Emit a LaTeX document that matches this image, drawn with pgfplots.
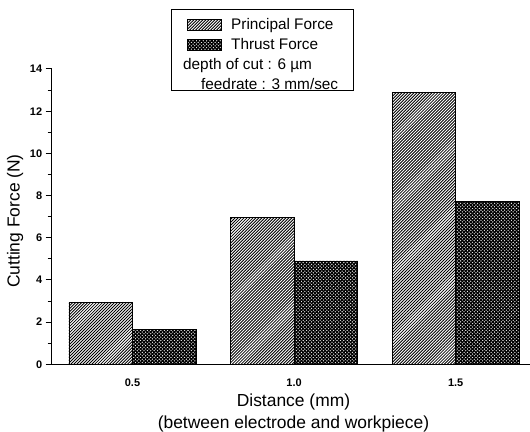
\documentclass[border=0pt]{standalone}
\usepackage{fontspec}
\setmainfont{Liberation Sans}
\usepackage{pgfplots}
\pgfplotsset{compat=1.18}
\usetikzlibrary{patterns}

\pgfdeclarepatternformonly{hatchA}{\pgfqpoint{-1pt}{-1pt}}{\pgfqpoint{4pt}{4pt}}{\pgfqpoint{3pt}{3pt}}{%
 \pgfsetlinewidth{0.85pt}\pgfpathmoveto{\pgfqpoint{0pt}{0pt}}\pgfpathlineto{\pgfqpoint{3.1pt}{3.1pt}}\pgfusepath{stroke}}
\pgfdeclarepatternformonly{crossB}{\pgfqpoint{-1pt}{-1pt}}{\pgfqpoint{4.4pt}{4.4pt}}{\pgfqpoint{3.4pt}{3.4pt}}{%
 \pgfsetlinewidth{1.15pt}\pgfpathmoveto{\pgfqpoint{0pt}{0pt}}\pgfpathlineto{\pgfqpoint{3.5pt}{3.5pt}}%
 \pgfpathmoveto{\pgfqpoint{0pt}{3.4pt}}\pgfpathlineto{\pgfqpoint{3.4pt}{0pt}}\pgfusepath{stroke}}

\pgfplotsset{sqlegend/.style={legend image code/.code={\draw[##1] (0bp,-5.5bp) rectangle (34bp,5.5bp);}}}

\begin{document}
\begin{tikzpicture}
\useasboundingbox (-51.7bp,-67.7bp) rectangle (478.3bp,364.3bp);
\begin{axis}[
  scale only axis, width=478.3bp, height=295.3bp,
  at={(0,0)}, anchor=south west,
  xmin=-0.5, xmax=2.46, ymin=0, ymax=14,
  axis x line*=bottom, axis y line*=left,
  axis line style={line width=1.1pt},
  xtick={0,1,2}, xticklabels={0.5,1.0,1.5},
  ytick={0,2,...,14}, minor y tick num=1,
  tick align=outside,
  major tick length=6bp, minor tick length=4bp,
  tick style={line width=1pt, black},
  x tick style={draw=none},
  /pgf/number format/assume math mode=true,
  ticklabel style={font=\fontsize{11}{13}\selectfont\bfseries},
  xticklabel style={yshift=-5bp},
  label style={font=\fontsize{17.5}{21.6}\selectfont},
  xlabel={Distance (mm)\\(between electrode and workpiece)},
  xlabel style={at={(axis description cs:0.5055,-0.1)}, anchor=north, align=center, inner sep=0pt},
  ylabel={Cutting Force (N)},
  ylabel style={at={(axis description cs:-0.0767,0.485)}, anchor=center, inner sep=0pt},
  legend style={at={(0.277,1.19)}, anchor=north west, draw=none, fill=none,
    font=\fontsize{15.4}{18}\selectfont, row sep=0pt, column sep=7bp,
    nodes={text height=11bp, text depth=3bp, inner ysep=3.1bp}},
  legend cell align=left,
]
\addplot[ybar, bar width=0.393, bar shift=-0.1965, draw=black, line width=0.8pt, pattern=hatchA, sqlegend]
  coordinates {(0,2.95) (1,6.95) (2,12.9)};
\addlegendentry{Principal Force}
\addplot[ybar, bar width=0.393, bar shift=0.1965, draw=black, line width=0.8pt, pattern=crossB, sqlegend]
  coordinates {(0,1.65) (1,4.9) (2,7.7)};
\addlegendentry{Thrust Force}
\addlegendimage{empty legend}
\addlegendentry{\hspace{-48bp}depth of cut : 6 µm}
\addlegendimage{empty legend}
\addlegendentry{\hspace{-30bp}feedrate : 3 mm/sec}
\end{axis}
\draw[line width=0.8pt] (120bp,355bp) rectangle (301.6bp,273.6bp);
\end{tikzpicture}
\end{document}
